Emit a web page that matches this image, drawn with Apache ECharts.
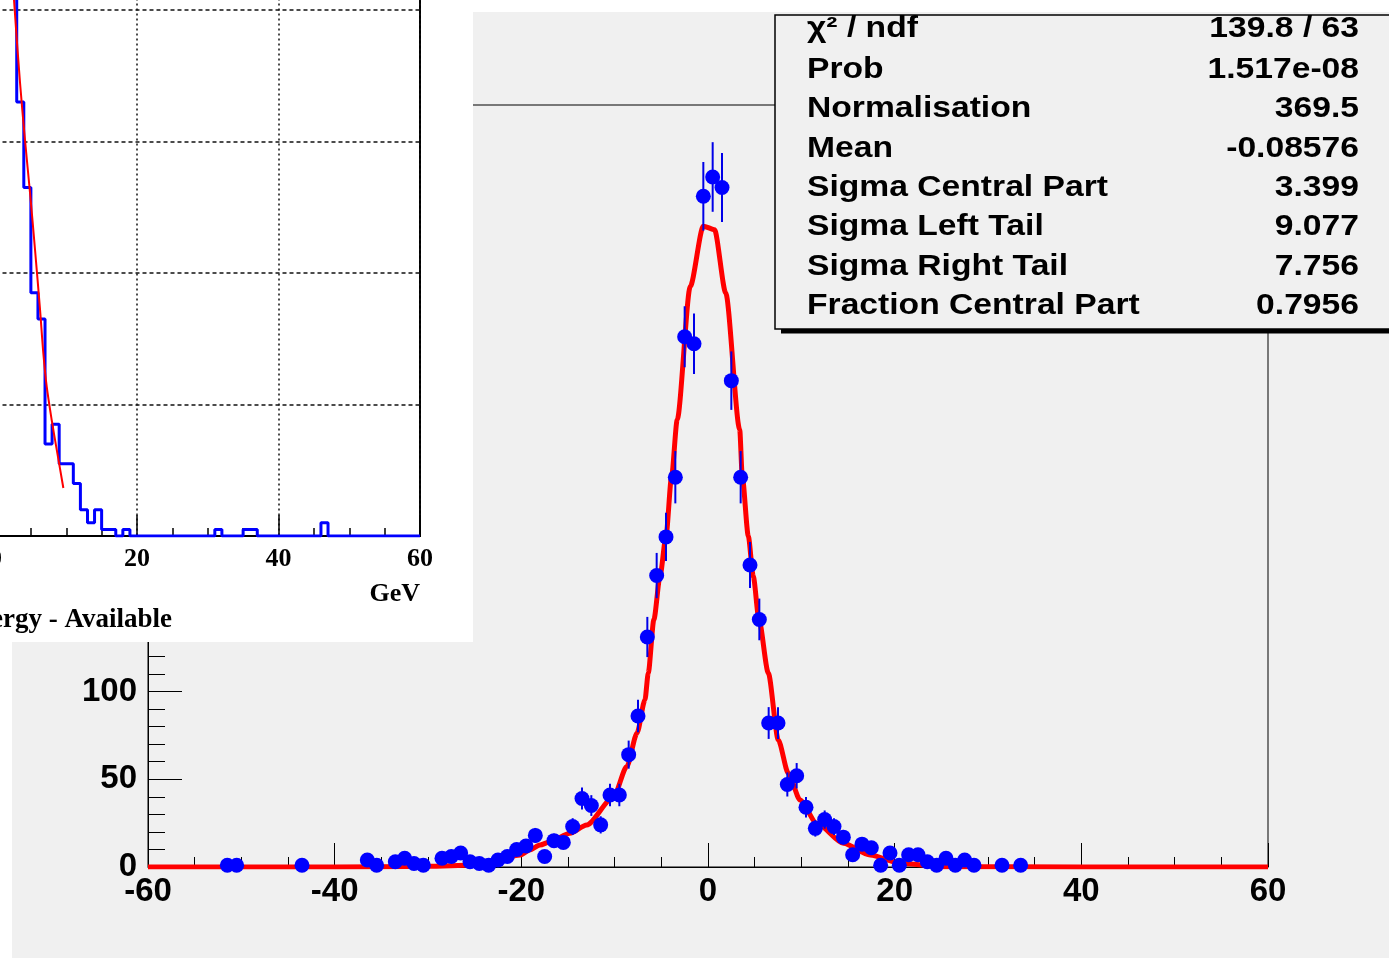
<!DOCTYPE html>
<html>
<head>
<meta charset="utf-8">
<script src="https://cdn.jsdelivr.net/npm/echarts@6/dist/echarts.min.js"></script>
<style>
  html, body { margin: 0; padding: 0; background: #ffffff; }
  #wrap { position: relative; width: 1389px; height: 958px; overflow: hidden; }
  #pad { position: absolute; left: 12px; top: 12px; right: 0; bottom: 0; background: #f0f0f0; }
  #chart { position: absolute; left: 0; top: 0; width: 1389px; height: 958px; }
</style>
</head>
<body>
<div id="wrap"><div id="pad"></div><div id="chart"></div></div>
<script>
// Residual distribution: bin centres (1 GeV bins) and entries per bin; empty bins omitted
const binCentres = [-51.5, -50.5, -43.5, -36.5, -35.5, -33.5, -32.5, -31.5, -30.5, -28.5,
  -27.5, -26.5, -25.5, -24.5, -23.5, -22.5, -21.5, -20.5, -19.5, -18.5,
  -17.5, -16.5, -15.5, -14.5, -13.5, -12.5, -11.5, -10.5, -9.5, -8.5,
  -7.5, -6.5, -5.5, -4.5, -3.5, -2.5, -1.5, -0.5, 0.5, 1.5,
  2.5, 3.5, 4.5, 5.5, 6.5, 7.5, 8.5, 9.5, 10.5, 11.5,
  12.5, 13.5, 14.5, 15.5, 16.5, 17.5, 18.5, 19.5, 20.5, 21.5,
  22.5, 23.5, 24.5, 25.5, 26.5, 27.5, 28.5, 31.5, 33.5];
const counts = [1, 1, 1, 4, 1, 3, 5, 2, 1, 5,
  6, 8, 3, 2, 1, 4, 6, 10, 12, 18,
  6, 15, 14, 23, 39, 35, 24, 41, 41, 64,
  86, 131, 166, 188, 222, 302, 298, 382, 393, 387,
  277, 222, 172, 141, 82, 82, 47, 52, 34, 22,
  27, 23, 17, 7, 13, 11, 1, 8, 1, 7,
  7, 3, 1, 5, 1, 4, 1, 1, 1];

// Fitted central Gaussian with two tails, sampled along x
const fitX = [-60, -40, -30, -25.1, -21.6, -20.1, -19.1, -18.0, -16.9, -14.8,
  -13.0, -10.1, -8.7, -7.6, -6.75, -6.4, -5.8, -5.14, -4.5, -3.9,
  -3.3, -1.9, -0.5, 0.7, 1.9, 3.4, 3.67, 4.32, 4.85, 5.46,
  6.46, 7.53, 8.6, 9.86, 11.65, 14.5, 17.36, 20.6, 25.2, 40, 60];
const fitY = [0, 0, 0.4, 1.1, 5.7, 6.8, 9.7, 12.5, 14.4, 19.2,
  23.9, 40.1, 57.2, 76.3, 95.3, 110.5, 140.9, 165.6, 188.4, 222.6,
  254.7, 330.7, 365, 363, 327, 249, 222.6, 188.4, 165.6, 140.9,
  110.5, 72.4, 53.4, 38.2, 24.9, 13.5, 6.8, 2.1, 0.2, 0, 0];

// Inset: energy histogram in 1 GeV bins, first listed bin starts at insetFirstBin
const insetFirstBin = 2;
const insetCounts = [95, 66, 53, 37, 33, 14, 17, 11, 11, 8, 4, 2, 4, 1, 1, 0, 1,
  0, 0, 0, 0, 0, 0, 0, 0, 0, 0, 0, 0,
  1, 0, 0, 0, 1, 1,
  0, 0, 0, 0, 0, 0, 0, 0, 0,
  2,
  0, 0, 0, 0, 0, 0, 0, 0, 0, 0, 0, 0, 0];
const insetFitX = [2.2, 2.62, 3.47, 4.17, 4.88, 5.59, 6.29, 6.76, 7.24, 7.95, 8.66, 9.59];
const insetFitY = [90, 81.5, 68.9, 60.2, 52.2, 43.5, 34.5, 27.8, 22.7, 17.6, 13.1, 7.3];

// Fit summary
const statNames = ['\u03C7\u00B2 / ndf', 'Prob', 'Normalisation', 'Mean', 'Sigma Central Part',
  'Sigma Left Tail', 'Sigma Right Tail', 'Fraction Central Part'];
const statValues = ['139.8 / 63', '1.517e-08', '369.5', '-0.08576', '3.399', '9.077', '7.756', '0.7956'];

// Inset axis titles
const insetUnit = 'GeV';
const insetTitle = 'Energy - Available';

// ---- derived series data ----
const points = binCentres.map((x, i) => [x, counts[i]]);
const fitLine = fitX.map((x, i) => [x, fitY[i]]);
const histOutline = [];
insetCounts.forEach((v, i) => {
  const lo = insetFirstBin + i;
  histOutline.push([lo, v], [lo + 1, v]);
});
const insetFit = insetFitX.map((x, i) => [x, insetFitY[i]]);

const SANS = '"Liberation Sans", Arial, Helvetica, sans-serif';
const SERIF = '"Liberation Serif", "Times New Roman", serif';

// stats box rows
const statRowY = statNames.map((_, i) => i === 0 ? 29 : 70 + (i - 1) * 39.3);
const statGraphics = [];
statNames.forEach((name, i) => {
  statGraphics.push({
    type: 'text', x: 807, y: statRowY[i], scaleX: 1.16, z: 31,
    style: { text: name, font: 'bold 29px ' + SANS, fill: '#000',
      align: 'left', textAlign: 'left', verticalAlign: 'middle', textVerticalAlign: 'middle' }
  });
  statGraphics.push({
    type: 'text', x: 1359, y: statRowY[i], scaleX: 1.16, z: 31,
    style: { text: statValues[i], font: 'bold 29px ' + SANS, fill: '#000',
      align: 'right', textAlign: 'right', verticalAlign: 'middle', textVerticalAlign: 'middle' }
  });
});

const chart = echarts.init(document.getElementById('chart'), null, { renderer: 'canvas' });

const blackLine = { color: '#000', width: 1 };

chart.setOption({
  animation: false,
  backgroundColor: 'transparent',
  grid: [
    { left: 148, top: 105, width: 1120, height: 762, show: true, containLabel: false,
      outerBoundsMode: 'none',
      borderColor: '#000', borderWidth: 1, backgroundColor: 'transparent', z: 0 },
    { left: -4.5, top: -121.5, width: 424.5, height: 657.5, show: true, containLabel: false,
      outerBoundsMode: 'none',
      borderColor: '#000', borderWidth: 2, backgroundColor: 'transparent', z: 20 }
  ],
  xAxis: [
    { gridIndex: 0, type: 'value', min: -60, max: 60, interval: 20,
      axisLine: { show: true, onZero: false, lineStyle: blackLine },
      axisTick: { show: true, inside: true, length: 24, lineStyle: blackLine },
      minorTick: { show: true, splitNumber: 4, length: 10, lineStyle: blackLine },
      splitLine: { show: false },
      axisLabel: { color: '#000', fontFamily: SANS, fontWeight: 'bold', fontSize: 33, margin: 8 } },
    { gridIndex: 1, type: 'value', min: 0, max: 60, interval: 20, z: 20,
      axisLine: { show: true, onZero: false, lineStyle: { color: '#000', width: 2 } },
      axisTick: { show: true, inside: true, length: 21, lineStyle: { color: '#000', width: 1.5 } },
      minorTick: { show: true, splitNumber: 4, length: 8, lineStyle: { color: '#000', width: 1.5 } },
      splitLine: { show: true, lineStyle: { color: '#111', width: 1.5, type: [2, 3] } },
      axisLabel: { color: '#000', fontFamily: SERIF, fontWeight: 'bold', fontSize: 26, margin: 10 } }
  ],
  yAxis: [
    { gridIndex: 0, type: 'value', min: 0, max: 434, interval: 50,
      axisLine: { show: true, onZero: false, lineStyle: blackLine },
      axisTick: { show: true, inside: true, length: 34, lineStyle: blackLine },
      minorTick: { show: true, splitNumber: 5, length: 17, lineStyle: blackLine },
      splitLine: { show: false },
      axisLabel: { color: '#000', fontFamily: SANS, fontWeight: 'bold', fontSize: 33, margin: 11 } },
    { gridIndex: 1, type: 'value', min: 0, max: 100, interval: 20, z: 20,
      axisLine: { show: false },
      axisTick: { show: false },
      axisLabel: { show: false },
      splitLine: { show: true, lineStyle: { color: '#111', width: 1.5, type: [4, 3] } } }
  ],
  series: [
    { type: 'line', xAxisIndex: 0, yAxisIndex: 0, z: 2, data: fitLine,
      showSymbol: false, smooth: 0.25, smoothMonotone: 'x',
      lineStyle: { color: '#ff0000', width: 5 } },
    { type: 'custom', xAxisIndex: 0, yAxisIndex: 0, z: 3, data: points,
      renderItem: function (params, api) {
        const x = api.value(0), v = api.value(1), e = Math.sqrt(v);
        const p1 = api.coord([x, v - e]);
        const p2 = api.coord([x, v + e]);
        return { type: 'line', shape: { x1: p1[0], y1: p1[1], x2: p2[0], y2: p2[1] },
          style: { stroke: '#0000e8', lineWidth: 2 } };
      } },
    { type: 'scatter', xAxisIndex: 0, yAxisIndex: 0, z: 4, data: points,
      symbol: 'circle', symbolSize: 15, itemStyle: { color: '#0000ff', opacity: 1 } },
    { type: 'line', xAxisIndex: 1, yAxisIndex: 1, z: 21, data: histOutline,
      showSymbol: false, lineStyle: { color: '#0000ff', width: 3 } },
    { type: 'line', xAxisIndex: 1, yAxisIndex: 1, z: 22, data: insetFit,
      showSymbol: false, smooth: 0.3, lineStyle: { color: '#ff0000', width: 2 } }
  ],
  graphic: [
    // inset panel background
    { type: 'rect', z: 10, silent: true, shape: { x: 0, y: 0, width: 473, height: 642 },
      style: { fill: '#ffffff' } },
    { type: 'text', x: 420, y: 594, z: 25,
      style: { text: insetUnit, font: 'bold 26px ' + SERIF, fill: '#000',
        align: 'right', textAlign: 'right', verticalAlign: 'middle', textVerticalAlign: 'middle' } },
    { type: 'text', x: 172, y: 620, z: 25,
      style: { text: insetTitle, font: 'bold 27px ' + SERIF, fill: '#000',
        align: 'right', textAlign: 'right', verticalAlign: 'middle', textVerticalAlign: 'middle' } },
    // fit statistics box with drop shadow
    { type: 'rect', z: 29, silent: true, shape: { x: 781, y: 329, width: 700, height: 4.5 },
      style: { fill: '#000' } },
    { type: 'rect', z: 30, silent: true, shape: { x: 775, y: 15, width: 700, height: 314 },
      style: { fill: '#f0f0f0', stroke: '#000', lineWidth: 1.5 } }
  ].concat(statGraphics)
});
</script>
</body>
</html>
